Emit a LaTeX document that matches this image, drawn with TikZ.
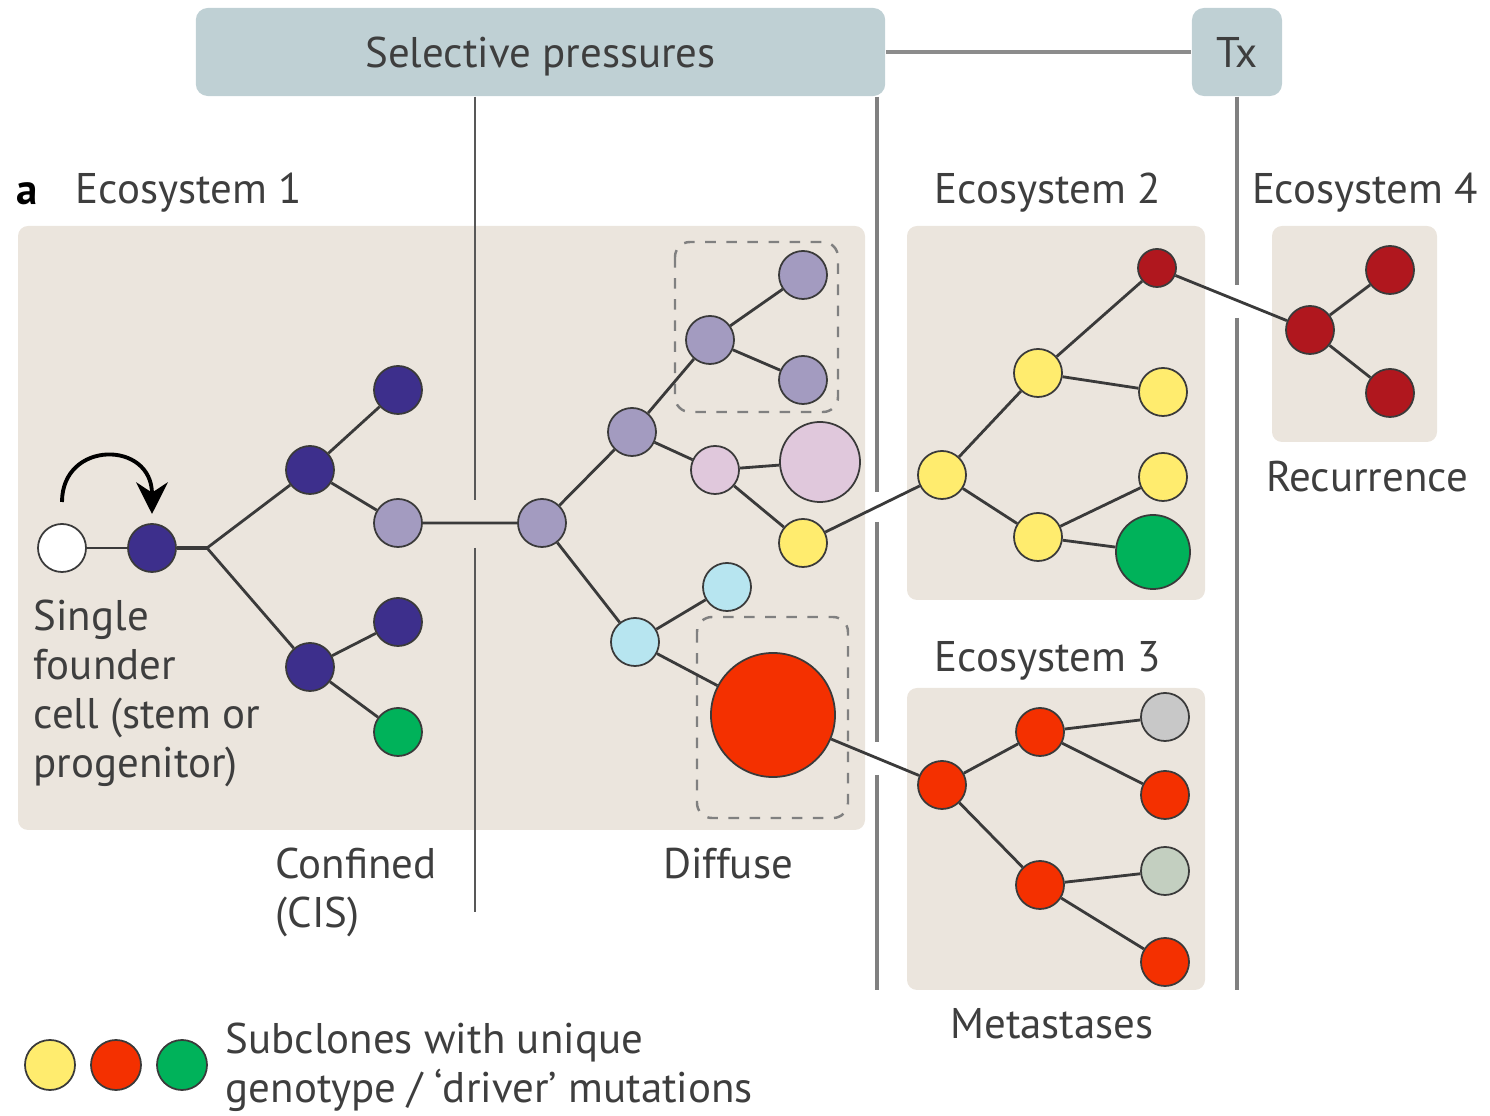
\documentclass[tikz,border=0pt]{standalone}
\usepackage{fontspec}
\setmainfont{PT Sans}
\usepackage{tikz}
\usetikzlibrary{arrows.meta,calc,positioning}
\definecolor{PanelBeige}{RGB}{235,229,221}
\definecolor{HeadBlue}{RGB}{191,208,212}
\definecolor{InkGray}{RGB}{58,58,58}
\definecolor{TextGray}{RGB}{62,62,62}
\definecolor{FounderBlue}{RGB}{61,47,140}
\definecolor{Lavender}{RGB}{163,155,192}
\definecolor{PalePink}{RGB}{224,200,220}
\definecolor{PaleCyan}{RGB}{183,229,240}
\definecolor{CloneYellow}{RGB}{255,236,110}
\definecolor{CloneRed}{RGB}{244,48,0}
\definecolor{DeepRed}{RGB}{176,23,30}
\definecolor{CloneGreen}{RGB}{0,178,90}
\definecolor{CloneGray}{RGB}{200,200,200}
\definecolor{Sage}{RGB}{195,207,192}

\tikzset{
  cell/.style={circle,draw=InkGray,line width=0.5pt,inner sep=0pt,minimum size=0.48cm},
  panel/.style={fill=PanelBeige,rounded corners=0.1cm},
  head/.style={fill=HeadBlue,rounded corners=0.12cm,inner sep=0pt,text=TextGray,
    text height=0.34cm,text depth=0.02cm,font=\fontsize{12.2}{14}\selectfont},
  branch/.style={draw=InkGray,line width=0.8pt},
  lbl/.style={text=TextGray,inner sep=0pt,font=\fontsize{12.2}{14}\selectfont},
  divider/.style={draw=gray,line width=1.2pt},
  cisline/.style={draw=InkGray!85,line width=0.8pt},
  clonebox/.style={draw=gray,dashed,line width=0.7pt,rounded corners=0.15cm}
}

\begin{document}
\begin{tikzpicture}[x=0.01cm,y=-0.01cm]
  \useasboundingbox (0,0) rectangle (1490,1116);

  % headers
  \node[head,minimum width=6.89cm,minimum height=0.88cm] (sel) at (540.5,52) {Selective pressures};
  \node[head,minimum width=0.9cm,minimum height=0.88cm] (tx) at (1237,52) {Tx};
  \draw[draw=gray!90,line width=1.3pt] (sel.east) -- (tx.west);

  % ecosystems
  \fill[panel] (18,226) rectangle (865,830);
  \fill[panel] (907,226) rectangle (1205,600);
  \fill[panel] (907,688) rectangle (1205,990);
  \fill[panel] (1272,226) rectangle (1437,442);

  % pressure lines, broken where the lineages pass
  \draw[cisline] (sel.south -| 475,0) -- (475,500) (475,548) -- (475,912);
  \draw[divider] (sel.south -| 877,0) -- (877,492) (877,522) -- (877,742) (877,775) -- (877,990);
  \draw[divider] (tx.south) -- (1237,285) (1237,318) -- (1237,990);

  \draw[clonebox] (675,242) rectangle (838,412);
  \draw[clonebox] (697,617) rectangle (848,818);

  % ecosystem 1
  \node[cell,fill=white] (w) at (62,548) {};
  \node[cell,fill=FounderBlue] (d0) at (152,548) {};
  \coordinate (j0) at (207,548);
  \node[cell,fill=FounderBlue] (d1) at (310,470) {};
  \node[cell,fill=FounderBlue] (d2) at (310,667) {};
  \node[cell,fill=FounderBlue] (d3) at (398,390) {};
  \node[cell,fill=Lavender] (l1) at (398,523) {};
  \node[cell,fill=FounderBlue] (d4) at (398,622) {};
  \node[cell,fill=CloneGreen] (g1) at (398,732) {};
  \node[cell,fill=Lavender] (l2) at (542,523) {};
  \node[cell,fill=Lavender] (l3) at (632,432) {};
  \node[cell,fill=Lavender] (l4) at (710,340) {};
  \node[cell,fill=Lavender] (l5) at (803,275) {};
  \node[cell,fill=Lavender] (l6) at (803,380) {};
  \node[cell,fill=PalePink] (p1) at (715,470) {};
  \node[cell,fill=PalePink,minimum size=0.8cm] (p2) at (820,462) {};
  \node[cell,fill=CloneYellow] (y0) at (803,543) {};
  \node[cell,fill=PaleCyan] (c1) at (635,642) {};
  \node[cell,fill=PaleCyan] (c2) at (727,587) {};
  \node[cell,fill=CloneRed,minimum size=1.24cm] (r0) at (773,715) {};

  \draw[line width=1.1pt,-{Stealth[length=9pt,width=9pt]}] (62,502) .. controls (62,440) and (152,440) .. (152,514);

  \draw[branch] (w) -- (d0);
  \draw[branch,line width=1.1pt] (d0) -- (j0);
  \draw[branch] (j0) -- (d1) (j0) -- (d2) (d1) -- (d3) (d1) -- (l1) (d2) -- (d4) (d2) -- (g1);
  \draw[branch] (l1) -- (l2) (l2) -- (l3) (l2) -- (c1) (l3) -- (l4) (l4) -- (l5) (l4) -- (l6);
  \draw[branch] (l3) -- (p1) (p1) -- (p2) (p1) -- (y0) (c1) -- (c2) (c1) -- (r0);

  % ecosystem 2
  \node[cell,fill=CloneYellow] (y1) at (942,475) {};
  \node[cell,fill=CloneYellow] (y2) at (1038,373) {};
  \node[cell,fill=CloneYellow] (y3) at (1038,537) {};
  \node[cell,fill=DeepRed,minimum size=0.38cm] (k0) at (1157,268) {};
  \node[cell,fill=CloneYellow] (y4) at (1163,392) {};
  \node[cell,fill=CloneYellow] (y5) at (1163,477) {};
  \node[cell,fill=CloneGreen,minimum size=0.74cm] (g2) at (1153,552) {};
  \draw[branch] (y0) -- (y1) (y1) -- (y2) (y1) -- (y3) (y2) -- (k0) (y2) -- (y4) (y3) -- (y5) (y3) -- (g2);

  % ecosystem 4
  \node[cell,fill=DeepRed] (k1) at (1310,330) {};
  \node[cell,fill=DeepRed] (k2) at (1390,270) {};
  \node[cell,fill=DeepRed] (k3) at (1390,393) {};
  \draw[branch] (k0) -- (k1) (k1) -- (k2) (k1) -- (k3);

  % ecosystem 3
  \node[cell,fill=CloneRed] (r1) at (942,785) {};
  \node[cell,fill=CloneRed] (r2) at (1040,732) {};
  \node[cell,fill=CloneRed] (r3) at (1040,885) {};
  \node[cell,fill=CloneGray] (s1) at (1165,717) {};
  \node[cell,fill=CloneRed] (r4) at (1165,795) {};
  \node[cell,fill=Sage] (s2) at (1165,871) {};
  \node[cell,fill=CloneRed] (r5) at (1165,962) {};
  \draw[branch] (r0) -- (r1) (r1) -- (r2) (r1) -- (r3) (r2) -- (s1) (r2) -- (r4) (r3) -- (s2) (r3) -- (r5);

  % labels
  \node[lbl,anchor=west,text=black] (tag) at (16,194) {\textbf{a}};
  \node[lbl,anchor=west] (eco1) at (75,193) {Ecosystem 1};
  \node[lbl] (eco2) at (1048,193) {Ecosystem 2};
  \node[lbl] (eco4) at (1365,193) {Ecosystem 4};
  \node[lbl] (recur) at (1367,477) {Recurrence};
  \node[lbl] (eco3) at (1048,661) {Ecosystem 3};
  \node[lbl] (meta) at (1052,1024) {Metastases};
  \node[lbl] (diffuse) at (728,864) {Diffuse};
  \node[lbl,align=left,anchor=north west] (cis) at (275,847) {Confined\\(CIS)};
  \node[lbl,align=left,anchor=north west] (founder) at (33,599) {Single\\founder\\cell (stem or\\progenitor)};

  % key
  \node[cell,fill=CloneYellow,minimum size=0.5cm] (keyY) at (50,1065) {};
  \node[cell,fill=CloneRed,minimum size=0.5cm] (keyR) at (116,1065) {};
  \node[cell,fill=CloneGreen,minimum size=0.5cm] (keyG) at (182,1065) {};
  \node[lbl,align=left,anchor=west] (keytext) at (225,1067) {Subclones with unique\\genotype / ‘driver’ mutations};
\end{tikzpicture}
\end{document}
